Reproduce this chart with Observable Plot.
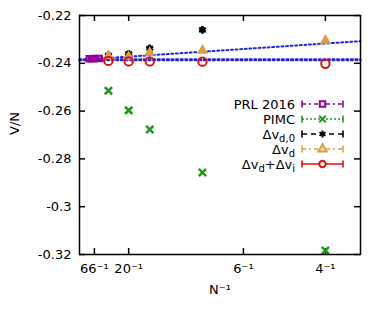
<!DOCTYPE html>
<html><head><meta charset="utf-8">
<script src="https://cdn.jsdelivr.net/npm/d3@7"></script>
<script src="https://cdn.jsdelivr.net/npm/@observablehq/plot@0.6"></script>
<style>body{margin:0;background:#fff}</style>
</head><body><div id="chart"></div>
<script>
// ---- data ----
const prlN = [100, 80, 66, 50];
const prlV = [-0.2381, -0.2381, -0.2380, -0.2380];
const pimcN = [34, 20, 14, 8, 4];
const pimcV = [-0.2515, -0.2597, -0.2677, -0.2857, -0.3183];
const dvd0N = [34, 20, 14, 8];
const dvd0V = [-0.2367, -0.2360, -0.2337, -0.2260];
const dvdN = [34, 20, 14, 8, 4];
const dvdV = [-0.2370, -0.2372, -0.2355, -0.2346, -0.2305];
const dvdiN = [34, 20, 14, 8, 4];
const dvdiV = [-0.2390, -0.2392, -0.2392, -0.2393, -0.2402];
const fitIntercepts = [-0.2383, -0.2387, -0.2386];
const fitSlopes = [0, 0, 0.0275];
const xTickN = [66, 20, 6, 4];
const yTicks = [-0.22, -0.24, -0.26, -0.28, -0.3, -0.32];
const xDomain = [0, 0.2857];
const yDomain = [-0.32, -0.22];
const legendLabels = ["PRL 2016", "PIMC", "Δv|d,0", "Δv|d", "Δv|d+Δv|i"];

// ---- styles ----
const C = {prl: "#940094", pimc: "#1f9a1f", d0: "#000000", d: "#d9a04a", di: "#dd1111", fit: "#2626d9"};
const W = 386, H = 320, mL = 79, mR = 26, mT = 15, mB = 66;
const fW = W - mL - mR, fH = H - mT - mB;
const series = (N, V) => N.map((n, i) => ({x: 1 / n, y: V[i]}));
const fits = fitIntercepts.flatMap((b, k) => xDomain.map(x => ({k, x, y: b + fitSlopes[k] * x})));
const xTicks = xTickN.map(n => 1 / n);
const xFmt = d => xTickN[xTicks.indexOf(d)] + "⁻¹";
const yFmt = d => String(+d.toFixed(2));

const plot = Plot.plot({
  width: W, height: H, marginLeft: mL, marginRight: mR, marginTop: mT, marginBottom: mB,
  style: {fontFamily: "DejaVu Sans", fontSize: "13px", color: "#000", background: "#fff"},
  x: {domain: xDomain},
  y: {domain: yDomain},
  marks: [
    Plot.axisX(xTicks, {tickSize: 0, tickPadding: 9, tickFormat: xFmt, label: null, fontSize: 13}),
    Plot.axisY(yTicks, {tickSize: 0, tickPadding: 8, tickFormat: yFmt, label: null, fontSize: 13}),
    Plot.ruleX(xTicks, {x: d => d, insetTop: fH - 6, strokeWidth: 1.5}),
    Plot.ruleX(xTicks, {x: d => d, insetBottom: fH - 6, strokeWidth: 1.5}),
    Plot.ruleY(yTicks, {y: d => d, insetRight: fW - 6, strokeWidth: 1.5}),
    Plot.ruleY(yTicks, {y: d => d, insetLeft: fW - 6, strokeWidth: 1.5}),
    Plot.line(fits, {x: "x", y: "y", z: "k", stroke: C.fit, strokeWidth: 2, strokeDasharray: "2,2.6"}),
    Plot.dot(series(pimcN, pimcV), {x: "x", y: "y", symbol: "times", r: 3.4, stroke: C.pimc, strokeWidth: 2.6}),
    Plot.dot(series(prlN, prlV), {x: "x", y: "y", symbol: "square", r: 3.2, stroke: C.prl, fill: C.prl, fillOpacity: 0.5, strokeWidth: 2}),
    Plot.dot(series(dvd0N, dvd0V), {x: "x", y: "y", symbol: "asterisk", r: 3.6, stroke: C.d0, strokeWidth: 2.6}),
    Plot.dot(series(dvdN, dvdV), {x: "x", y: "y", symbol: "triangle", r: 3.4, stroke: C.d, fill: C.d, strokeWidth: 1.2}),
    Plot.dot(series(dvdiN, dvdiV), {x: "x", y: "y", symbol: "circle", r: 4.2, stroke: C.di, fill: "none", strokeWidth: 2}),
    Plot.text(["N⁻¹"], {frameAnchor: "bottom", dy: 39, fontSize: 13}),
    Plot.text(["V/N"], {frameAnchor: "left", dx: -65, rotate: -90, fontSize: 13}),
    Plot.frame({stroke: "#000", strokeWidth: 1.5})
  ]
});
document.getElementById("chart").appendChild(plot);

// ---- legend ----
const svg = d3.select(plot);
const lg = svg.append("g").attr("font-family", "DejaVu Sans").attr("font-size", 13);
const rows = [
  {c: C.prl, dash: "4,3,2,3", sym: "square"},
  {c: C.pimc, dash: "2,2", sym: "times"},
  {c: C.d0, dash: "5,4", sym: "asterisk"},
  {c: C.d, dash: "4,3,2,3", sym: "triangle"},
  {c: C.di, dash: null, sym: "circle"}
];
const y0 = 104, dy = 15, tx = 295, sx0 = 302, sx1 = 343, mx = 322.5;
legendLabels.forEach((lab, i) => {
  const y = y0 + i * dy, r = rows[i];
  const t = lg.append("text").attr("x", tx).attr("y", y + 4.5).attr("text-anchor", "end");
  let shifted = false;
  lab.split("+").forEach((p, j) => {
    const [main, sub] = p.split("|");
    const head = (j > 0 ? "+" : "") + main;
    const ts = t.append("tspan").text(head);
    if (shifted) { ts.attr("dy", -3); shifted = false; }
    if (sub) {
      t.append("tspan").attr("dy", 3).attr("font-size", 10).text(sub);
      shifted = true;
    }
  });
  const g = lg.append("g").attr("stroke", r.c).attr("fill", "none").attr("stroke-width", 1.6);
  g.append("line").attr("x1", sx0).attr("x2", sx1).attr("y1", y).attr("y2", y).attr("stroke-dasharray", r.dash);
  g.append("line").attr("x1", sx0).attr("x2", sx0).attr("y1", y - 3.5).attr("y2", y + 3.5);
  g.append("line").attr("x1", sx1).attr("x2", sx1).attr("y1", y - 3.5).attr("y2", y + 3.5);
  const sym = {square: d3.symbolSquare, times: d3.symbolTimes, asterisk: d3.symbolAsterisk, triangle: d3.symbolTriangle, circle: d3.symbolCircle}[r.sym];
  const size = {square: 30, times: 30, asterisk: 34, triangle: 30, circle: 32}[r.sym];
  g.append("path").attr("d", d3.symbol(sym, size)()).attr("transform", `translate(${mx},${y})`)
    .attr("fill", r.sym === "triangle" ? "#f3dcb8" : "#fff").attr("stroke-width", 2);
});
</script>
</body></html>
